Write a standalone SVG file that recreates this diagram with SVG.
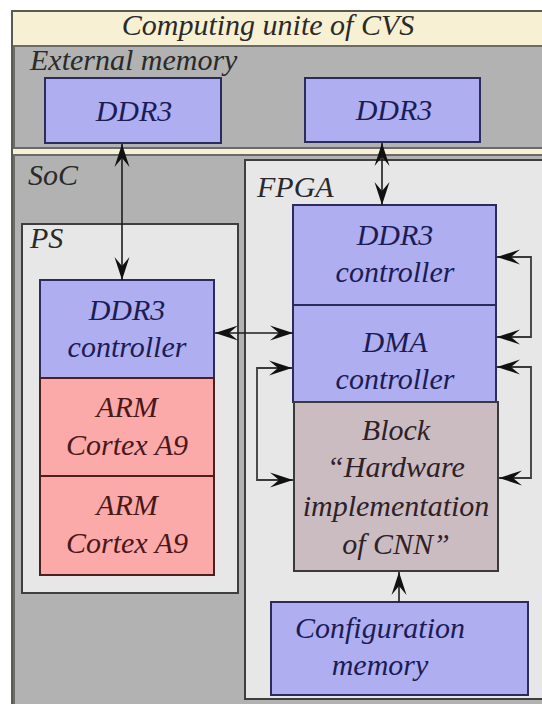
<svg xmlns="http://www.w3.org/2000/svg" width="542" height="704" viewBox="0 0 542 704">
  <style>
    text { font-family: "Liberation Serif", "Times New Roman", "DejaVu Serif", serif; font-style: italic; font-size: 30px; }
    .lbl { fill: #2a2a2a; }
    .c { text-anchor: middle; }
    .blue { fill: #aeaef0; stroke: #2c2c5c; stroke-width: 2; }
    .blueT { fill: #1c1c55; }
    .arm { fill: #fca9a9; stroke: #4a2020; stroke-width: 2; }
    .armT { fill: #4a1818; }
    .blk { fill: #cbbcc2; stroke: #3a3a3a; stroke-width: 2; }
    .blkT { fill: #2e2228; }
    .panel { fill: #e7e7e8; stroke: #3e3e3e; stroke-width: 2; }
    .band { fill: #b2b2b2; stroke: #6a6a6a; stroke-width: 2; }
    .conn { fill: none; stroke: #1e1e1e; stroke-width: 1.6; }
    .loop { fill: none; stroke: #3a3a3a; stroke-width: 1.8; }
  </style>
  <defs>
    <marker id="ah" markerUnits="userSpaceOnUse" markerWidth="26" markerHeight="18" refX="24" refY="9" orient="auto-start-reverse" viewBox="0 0 26 18">
      <path d="M24,9 L1,1.5 L10,9 L1,16.5 Z" fill="#111"/>
    </marker>
  </defs>

  <!-- outer frame -->
  <g id="frame">
    <rect x="12" y="11" width="540" height="700" fill="#f8f0d2" stroke="#5a5a50" stroke-width="2"/>
    <text class="lbl c" x="268" y="35">Computing unite of CVS</text>
  </g>

  <g id="external-memory">
    <rect class="band" x="14" y="46" width="536" height="102"/>
    <text class="lbl" x="30" y="70">External memory</text>
  </g>

  <g id="soc">
    <rect class="band" x="14" y="155" width="536" height="560"/>
    <text class="lbl" x="28" y="185">SoC</text>
  </g>

  <g id="ps">
    <rect class="panel" x="22" y="224" width="216" height="369"/>
    <text class="lbl" x="30" y="248">PS</text>
  </g>

  <g id="fpga">
    <rect class="panel" x="245" y="160" width="300" height="539"/>
    <text class="lbl" x="257" y="197">FPGA</text>
  </g>

  <g id="ddr3-left">
    <rect class="blue" x="45" y="78" width="176" height="65"/>
    <text class="blueT c" x="134" y="121">DDR3</text>
  </g>

  <g id="ddr3-right">
    <rect class="blue" x="305" y="78" width="175" height="64"/>
    <text class="blueT c" x="394" y="120">DDR3</text>
  </g>

  <g id="ps-ddr3-controller">
    <rect class="blue" x="40" y="280" width="174" height="98"/>
    <text class="blueT c" x="127" y="320">DDR3</text>
    <text class="blueT c" x="127" y="357">controller</text>
  </g>

  <g id="arm1">
    <rect class="arm" x="40" y="378" width="174" height="98"/>
    <text class="armT c" x="127" y="417">ARM</text>
    <text class="armT c" x="127" y="455">Cortex A9</text>
  </g>

  <g id="arm2">
    <rect class="arm" x="40" y="476" width="174" height="99"/>
    <text class="armT c" x="127" y="515">ARM</text>
    <text class="armT c" x="127" y="553">Cortex A9</text>
  </g>

  <g id="fpga-ddr3-controller">
    <rect class="blue" x="293" y="205" width="203" height="100"/>
    <text class="blueT c" x="395" y="245">DDR3</text>
    <text class="blueT c" x="395" y="282">controller</text>
  </g>

  <g id="dma-controller">
    <rect class="blue" x="293" y="305" width="203" height="97"/>
    <text class="blueT c" x="395" y="352">DMA</text>
    <text class="blueT c" x="395" y="389">controller</text>
  </g>

  <g id="cnn-block">
    <rect class="blk" x="294" y="402" width="204" height="169"/>
    <text class="blkT c" x="396" y="440">Block</text>
    <text class="blkT c" x="396" y="477">“Hardware</text>
    <text class="blkT c" x="396" y="516">implementation</text>
    <text class="blkT c" x="396" y="554">of CNN”</text>
  </g>

  <g id="config-memory">
    <rect class="blue" x="271" y="602" width="257" height="93"/>
    <text class="blueT c" x="380" y="638">Configuration</text>
    <text class="blueT c" x="380" y="675">memory</text>
  </g>

  <g id="connectors">
    <line class="conn" x1="122" y1="144" x2="122" y2="280" marker-start="url(#ah)" marker-end="url(#ah)"/>
    <line class="conn" x1="382" y1="143" x2="382" y2="205" marker-start="url(#ah)" marker-end="url(#ah)"/>
    <line class="conn" x1="215" y1="333" x2="293" y2="333" marker-start="url(#ah)" marker-end="url(#ah)"/>
    <path class="loop" d="M497,257 H531 V337 H497" marker-start="url(#ah)" marker-end="url(#ah)"/>
    <path class="loop" d="M497,367 H531 V478 H499" marker-start="url(#ah)" marker-end="url(#ah)"/>
    <path class="loop" d="M292,368 H257 V480 H293" marker-start="url(#ah)" marker-end="url(#ah)"/>
    <line class="conn" x1="399" y1="602" x2="399" y2="572" marker-end="url(#ah)"/>
  </g>
</svg>
